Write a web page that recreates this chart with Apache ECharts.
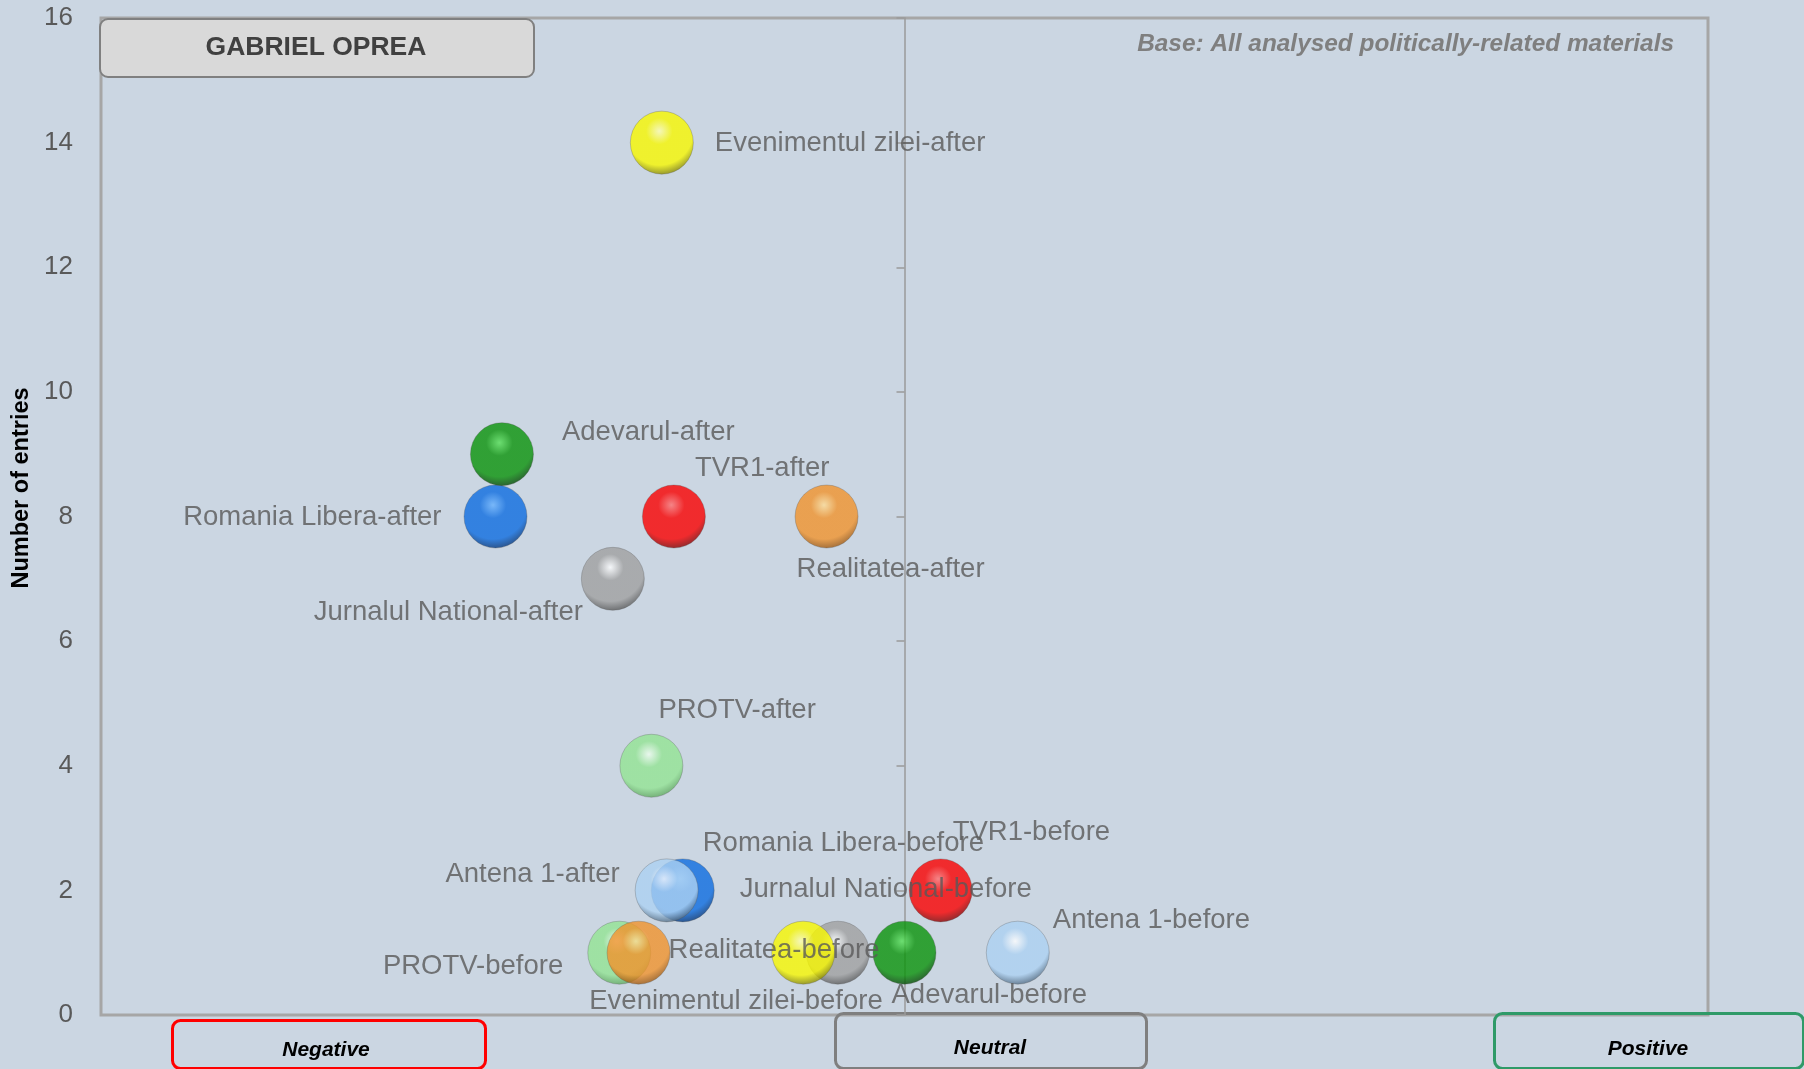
<!DOCTYPE html>
<html>
<head>
<meta charset="utf-8">
<title>Gabriel Oprea</title>
<script src="https://cdn.jsdelivr.net/npm/echarts@6/dist/echarts.min.js"></script>
<style>
  html, body { margin: 0; padding: 0; background: #cbd6e2; }
  #main { width: 1804px; height: 1069px; }
</style>
</head>
<body>
<div id="main"></div>
<script>
// outlets in drawing order (later ones sit on top)
var outlets = ['Jurnalul National', 'PROTV', 'Romania Libera', 'Adevarul', 'TVR1', 'Realitatea', 'Evenimentul zilei', 'Antena 1']
// tone (x, -100..100) and number of entries (y)
var afterTone = [-36.3, -31.5, -50.9, -50.1, -28.7, -9.7, -30.2, -29.6]
var afterEntries = [7, 4, 8, 9, 8, 8, 14, 2]
var beforeTone = [-8.3, -35.5, -27.6, 0, 4.5, -33.1, -12.6, 14.1]
var beforeEntries = [1, 1, 2, 1, 2, 1, 1, 1]
var yTicks = [0, 2, 4, 6, 8, 10, 12, 14, 16]

// sphere shading: [highlight, base, edge]
var shades = {
  'Jurnalul National': ['#ffffff', '#a0a0a0', '#3a3a3a'],
  'PROTV': ['#f0fff0', '#93e493', '#4a8f4a'],
  'Romania Libera': ['#64b0ff', '#0d6ce0', '#002050'],
  'Adevarul': ['#55e055', '#0a930a', '#002800'],
  'TVR1': ['#ff7070', '#fa0000', '#550000'],
  'Realitatea': ['#ffdc95', '#f1932c', '#7a4006'],
  'Evenimentul zilei': ['#ffffb0', '#f8f800', '#5c5c00'],
  'Antena 1': ['#ffffff', '#acd1f2', '#2c4257']
}

// label placement: [align, dx, dy] from the bubble centre
var labelPlace = {
  'Evenimentul zilei-after': ['left', 53, 1],
  'Adevarul-after': ['left', 60, -22],
  'TVR1-after': ['left', 21, -48],
  'Romania Libera-after': ['right', -54, 1],
  'Realitatea-after': ['left', -30, 53],
  'Jurnalul National-after': ['right', -30, 34],
  'PROTV-after': ['left', 7, -55],
  'Romania Libera-before': ['left', 20, -47],
  'Antena 1-after': ['right', -47, -16],
  'TVR1-before': ['left', 12, -58],
  'Jurnalul National-before': ['left', -98, -63],
  'Evenimentul zilei-before': ['left', -214, 49],
  'Realitatea-before': ['left', 30, -2],
  'PROTV-before': ['right', -56, 14],
  'Adevarul-before': ['left', -13, 43],
  'Antena 1-before': ['left', 35, -32]
}

var labelFont = '"Liberation Sans", Arial, sans-serif'

function point (name, x, y) {
  var p = labelPlace[name]
  return {
    name: name,
    value: [x, y],
    label: {align: p[0], offset: [p[1], p[2]]}
  }
}

var series = []
for (var i = 0; i < outlets.length; i++) {
  var s = shades[outlets[i]]
  series.push({
    name: outlets[i],
    type: 'scatter',
    symbolSize: 63,
    itemStyle: {
      color: new echarts.graphic.RadialGradient(0.46, 0.32, 0.74, [
        {offset: 0, color: s[0]},
        {offset: 0.28, color: s[1]},
        {offset: 0.72, color: s[1]},
        {offset: 1, color: s[2]}
      ]),
      borderColor: 'rgba(80,80,80,0.45)',
      borderWidth: 0.8
    },
    label: {
      show: true,
      position: 'inside',
      verticalAlign: 'middle',
      formatter: '{b}',
      color: '#595959',
      fontSize: 27.5,
      fontFamily: labelFont
    },
    emphasis: {disabled: true},
    data: [
      point(outlets[i] + '-after', afterTone[i], afterEntries[i]),
      point(outlets[i] + '-before', beforeTone[i], beforeEntries[i])
    ]
  })
}

var myChart = echarts.init(document.getElementById('main'))
var option = {
  backgroundColor: '#cbd6e2',
  animation: false,
  grid: {
    left: 101, right: 96, top: 18, bottom: 54,
    show: true, borderColor: '#a6a6a6', borderWidth: 3
  },
  xAxis: {type: 'value', min: -100, max: 100, show: false},
  yAxis: [
    {
      type: 'value',
      min: yTicks[0],
      max: yTicks[yTicks.length - 1],
      interval: yTicks[1] - yTicks[0],
      position: 'left',
      axisLine: {show: false, onZero: false},
      axisTick: {show: false},
      splitLine: {show: false},
      axisLabel: {color: '#595959', fontSize: 26, margin: 28, fontFamily: labelFont}
    },
    {
      type: 'value',
      min: yTicks[0],
      max: yTicks[yTicks.length - 1],
      interval: yTicks[1] - yTicks[0],
      position: 'left',
      axisLine: {show: true, onZero: true, lineStyle: {color: '#9a9a9a', width: 1.5}},
      axisTick: {show: true, length: 8, lineStyle: {color: '#9a9a9a', width: 1.5}},
      axisLabel: {show: false},
      splitLine: {show: false}
    }
  ],
  graphic: [
    {
      type: 'rect', left: 99, top: 18,
      shape: {width: 434, height: 58, r: 8},
      style: {fill: '#d9d9d9', stroke: '#808080', lineWidth: 2}
    },
    {
      type: 'text', x: 316, y: 48,
      style: {text: 'GABRIEL OPREA', fill: '#404040', font: 'bold 26.5px "Liberation Sans", Arial, sans-serif', textAlign: 'center', textVerticalAlign: 'middle'}
    },
    {
      type: 'text', x: 1674, y: 44,
      style: {text: 'Base: All analysed politically-related materials', fill: '#7f7f7f', font: 'italic bold 24.4px ' + labelFont, textAlign: 'right', textVerticalAlign: 'middle'}
    },
    {
      type: 'text', x: 22, y: 488, rotation: Math.PI / 2,
      style: {text: 'Number of entries', fill: '#000', font: 'bold 23.5px "Liberation Sans", Arial, sans-serif', textAlign: 'center', textVerticalAlign: 'middle'}
    },
    {
      type: 'rect', left: 170, top: 1018,
      shape: {width: 313, height: 48, r: 8},
      style: {fill: 'none', stroke: '#ff0000', lineWidth: 3}
    },
    {
      type: 'text', x: 326, y: 1050,
      style: {text: 'Negative', fill: '#000', font: 'italic bold 21px "Liberation Sans", Arial, sans-serif', textAlign: 'center', textVerticalAlign: 'middle'}
    },
    {
      type: 'rect', left: 833, top: 1011,
      shape: {width: 311, height: 55, r: 8},
      style: {fill: 'none', stroke: '#7f7f7f', lineWidth: 3}
    },
    {
      type: 'text', x: 990, y: 1048,
      style: {text: 'Neutral', fill: '#000', font: 'italic bold 21px "Liberation Sans", Arial, sans-serif', textAlign: 'center', textVerticalAlign: 'middle'}
    },
    {
      type: 'rect', left: 1492, top: 1011,
      shape: {width: 309, height: 55, r: 8},
      style: {fill: 'none', stroke: '#2f9a68', lineWidth: 3}
    },
    {
      type: 'text', x: 1648, y: 1049,
      style: {text: 'Positive', fill: '#000', font: 'italic bold 21px "Liberation Sans", Arial, sans-serif', textAlign: 'center', textVerticalAlign: 'middle'}
    }
  ],
  series: series
}
myChart.setOption(option)
</script>
</body>
</html>
